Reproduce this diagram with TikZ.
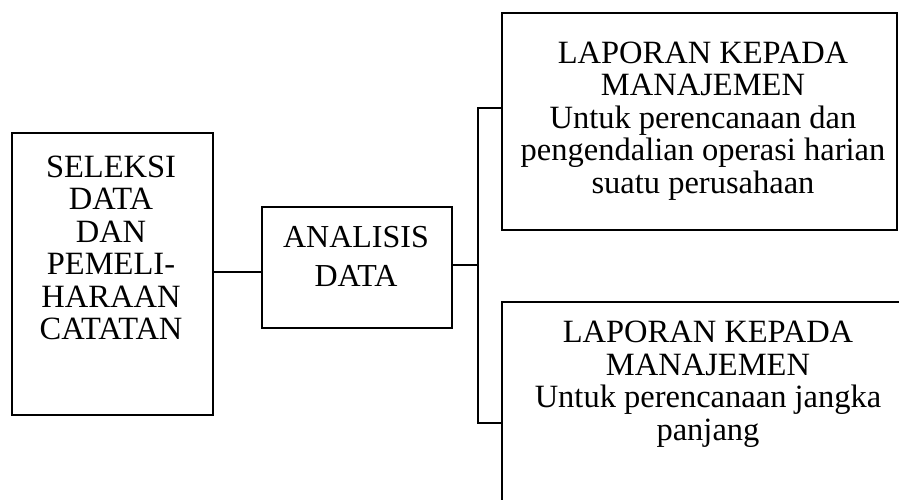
\documentclass[tikz,border=0pt]{standalone}
\usepackage{fontspec}
\setmainfont{Liberation Serif}
\begin{document}
\begin{tikzpicture}[x=1pt,y=-1pt,
  box/.style={draw,line width=1.7pt,inner sep=0pt},
  txt/.style={align=center,inner sep=0pt,font=\fontsize{32.5}{32.5}\selectfont},
  wire/.style={line width=1.7pt}]
\useasboundingbox (0,0) rectangle (899,500);
\begin{scope}
\clip (0,0) rectangle (899,500);
% boxes
\node[box,minimum width=201pt,minimum height=282pt] (sel) at (112.5,274) {};
\node[box,minimum width=190pt,minimum height=121pt] (ana) at (357,267.5) {};
\node[box,minimum width=395pt,minimum height=217pt] (top) at (699.5,121.5) {};
\node[box,minimum width=420pt,minimum height=218pt] (bot) at (712,411) {};
% texts
\node[txt] (selt) at (111,248) {SELEKSI\\DATA\\DAN\\PEMELI-\\HARAAN\\CATATAN};
\node[txt,font=\fontsize{32}{39}\selectfont] (anat) at (356,256) {ANALISIS\\DATA};
\node[txt] (topt) at (703,121) {LAPORAN KEPADA\\MANAJEMEN\\Untuk perencanaan dan\\pengendalian operasi harian\\suatu perusahaan};
\node[txt] (bott) at (708,384) {LAPORAN KEPADA\\MANAJEMEN\\Untuk perencanaan jangka\\panjang};
\end{scope}
% connectors
\coordinate (trunk) at (478,265);
\draw[wire] (sel.east |- 0,272) -- (ana.west |- 0,272);
\draw[wire] (ana.east |- trunk) -- (trunk);
\draw[wire] ([yshift=13.5pt]top.west) -| (trunk) |- ([yshift=-12pt]bot.west);
\end{tikzpicture}
\end{document}
